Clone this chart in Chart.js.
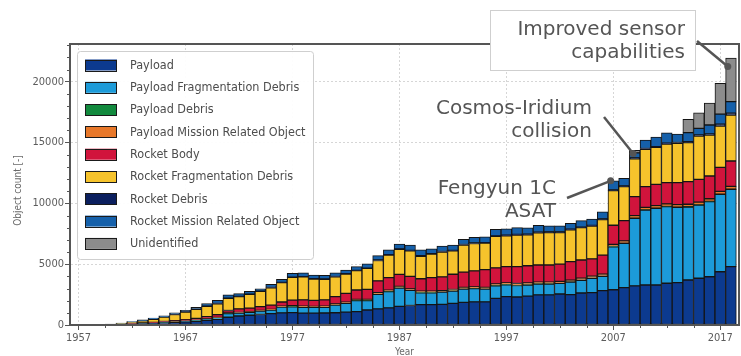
<!DOCTYPE html>
<html>
<head>
<meta charset="utf-8">
<script src="https://cdn.jsdelivr.net/npm/chart.js@4.4.1/dist/chart.umd.min.js"></script>
<style>
  html, body { margin: 0; padding: 0; background: #fff; overflow: hidden; }
  #wrap { width: 741px; height: 356px; position: relative; }
</style>
</head>
<body>
<div id="wrap"><canvas id="c" width="741" height="356"></canvas></div>
<script>
// Tracked objects in orbit by type, yearly totals 1958-2018
const years = [1958,1959,1960,1961,1962,1963,1964,1965,1966,1967,1968,1969,1970,1971,1972,1973,1974,1975,1976,1977,
  1978,1979,1980,1981,1982,1983,1984,1985,1986,1987,1988,1989,1990,1991,1992,1993,1994,1995,1996,1997,
  1998,1999,2000,2001,2002,2003,2004,2005,2006,2007,2008,2009,2010,2011,2012,2013,2014,2015,2016,2017,2018];

const payload = [5,12,25,45,80,110,140,170,210,260,310,380,460,640,740,800,860,930,1000,1020,
  980,970,990,1010,1060,1100,1230,1330,1410,1530,1600,1680,1680,1700,1780,1860,1900,1900,2190,2330,
  2300,2380,2480,2480,2550,2500,2630,2660,2820,2900,3070,3210,3290,3290,3430,3480,3700,3840,3970,4380,4800];

const payloadFragDebris = [0,0,0,5,10,15,20,30,40,50,60,80,120,300,240,240,280,290,470,480,
  480,480,470,630,720,900,770,1200,1330,1510,1240,970,970,1000,1010,1090,1090,1050,1030,980,
  950,910,890,890,870,1020,1040,1180,1180,3530,3640,5560,6160,6300,6300,6190,6000,6020,6170,6360,6350];

const payloadDebris = [0,0,0,0,0,0,0,10,10,10,10,10,10,10,10,10,10,10,10,10,
  10,10,10,10,10,10,10,20,20,20,20,20,20,20,20,20,20,20,20,20,
  20,20,20,20,20,20,20,20,20,20,20,20,20,20,20,20,20,20,20,20,20];

const payloadMissionObj = [0,0,0,0,5,5,10,15,20,25,30,35,40,40,40,45,50,60,60,70,
  70,70,70,80,80,90,90,100,100,110,110,110,110,110,110,120,120,120,130,130,
  140,140,140,140,140,150,150,150,160,180,190,200,200,200,210,210,210,220,220,230,230];

const rocketBody = [3,6,10,15,25,35,45,60,75,100,130,180,220,200,290,290,310,340,350,460,
  520,490,520,600,730,780,830,980,1040,990,1030,1020,1120,1120,1250,1260,1320,1460,1320,1340,
  1390,1420,1400,1400,1420,1520,1500,1430,1570,1570,1660,1560,1700,1750,1740,1800,1850,1870,1870,1970,2080];

const rocketFragDebris = [0,5,20,55,110,185,260,370,510,620,740,850,900,1000,1010,1130,1260,1430,1590,1880,
  1900,1760,1700,1640,1590,1590,1730,1670,1840,2060,2100,1850,1920,2050,1930,2230,2250,2180,2590,2540,
  2600,2550,2650,2670,2600,2620,2660,2700,2910,2840,2790,3120,3070,3040,3180,3230,3210,3570,3370,3400,3780];

const rocketDebris = [0,0,0,0,0,0,0,0,20,20,20,20,20,20,20,20,20,20,20,20,
  20,20,20,20,20,20,20,40,40,40,40,40,40,40,40,40,40,40,50,50,
  50,50,50,50,50,50,50,50,60,60,60,70,70,70,70,70,80,80,80,150,150];

const rocketMissionObj = [2,7,15,30,50,70,85,105,115,125,160,205,260,270,230,225,190,270,250,310,
  300,300,300,290,310,310,340,360,400,390,420,490,400,450,440,420,460,480,530,510,
  550,510,570,500,500,480,530,510,580,750,620,410,690,780,850,700,740,550,740,830,950];

const unidentified = [0,0,0,0,0,0,0,0,0,0,0,0,0,0,0,0,0,0,0,0,
  0,0,0,0,0,0,0,0,0,0,0,0,0,0,0,0,0,0,0,0,
  0,0,0,0,0,0,0,0,0,0,0,200,0,0,0,0,1090,1280,1810,2530,3590];

const yearTicks = [1957,1967,1977,1987,1997,2007,2017];
const countTicks = [0,5000,10000,15000,20000];

const seriesDefs = [
  { label: 'Payload', data: payload, color: '#0c3a8f' },
  { label: 'Payload Fragmentation Debris', data: payloadFragDebris, color: '#1c9bd9' },
  { label: 'Payload Debris', data: payloadDebris, color: '#128a3e' },
  { label: 'Payload Mission Related Object', data: payloadMissionObj, color: '#e8782a' },
  { label: 'Rocket Body', data: rocketBody, color: '#d1143c' },
  { label: 'Rocket Fragmentation Debris', data: rocketFragDebris, color: '#f6c32c' },
  { label: 'Rocket Debris', data: rocketDebris, color: '#0b1f5e' },
  { label: 'Rocket Mission Related Object', data: rocketMissionObj, color: '#1560aa' },
  { label: 'Unidentified', data: unidentified, color: '#8c8c8c' }
];

const totals = years.map((_, i) => seriesDefs.reduce((s, d) => s + d.data[i], 0));
const totalFor = y => totals[years.indexOf(y)];

const datasets = seriesDefs.map(d => ({
  label: d.label,
  data: years.map((y, i) => ({ x: y, y: d.data[i] })),
  backgroundColor: d.color,
  borderColor: '#141414',
  borderWidth: 1,
  borderSkipped: false,
  barPercentage: 1,
  categoryPercentage: 1
}));

const TICK_FONT = { family: "'DejaVu Sans Condensed', 'Liberation Sans Narrow', sans-serif", size: 11 };
const GREY = '#555';

const decor = {
  id: 'decor',
  afterDatasetsDraw(chart) {
    const ctx = chart.ctx;
    const a = chart.chartArea;
    const xs = chart.scales.x, ys = chart.scales.y;
    ctx.save();

    // minor tick marks
    ctx.strokeStyle = GREY;
    ctx.lineWidth = 1;
    ctx.beginPath();
    for (let v = 1000; v <= 23000; v += 1000) {
      if (v % 5000 === 0) continue;
      const py = Math.round(ys.getPixelForValue(v)) + 0.5;
      ctx.moveTo(a.left - 3, py); ctx.lineTo(a.left, py);
    }
    for (let v = 1957; v <= 2018; v += 2.5) {
      if ((v - 1957) % 10 === 0) continue;
      const px = Math.round(xs.getPixelForValue(v)) + 0.5;
      ctx.moveTo(px, a.bottom); ctx.lineTo(px, a.bottom + 3);
    }
    ctx.stroke();

    // plot frame
    ctx.strokeStyle = GREY;
    ctx.lineWidth = 2;
    ctx.strokeRect(a.left, a.top, a.right - a.left, a.bottom - a.top);

    // legend
    const lx = 77.5, ly = 51.5, lw = 236, lh = 208;
    ctx.fillStyle = 'rgba(255,255,255,0.95)';
    ctx.strokeStyle = '#cfcfcf';
    ctx.lineWidth = 1;
    ctx.beginPath();
    ctx.roundRect(lx, ly, lw, lh, 3);
    ctx.fill();
    ctx.stroke();
    ctx.font = "12.5px 'DejaVu Sans Condensed', 'Liberation Sans Narrow', sans-serif";
    ctx.textBaseline = 'middle';
    ctx.textAlign = 'left';
    chart.data.datasets.forEach((ds, i) => {
      const ry = 65 + i * 22.3;
      ctx.fillStyle = ds.backgroundColor;
      ctx.fillRect(85, ry - 5.5, 32, 11);
      ctx.strokeStyle = '#1a1a1a';
      ctx.strokeRect(85.5, Math.round(ry - 5.5) + 0.5, 31, 11);
      ctx.fillStyle = '#4d4d4d';
      ctx.fillText(ds.label, 130, ry + 0.5);
    });

    // axis titles
    ctx.fillStyle = '#6a6a6a';
    ctx.font = "10px 'DejaVu Sans Condensed', 'Liberation Sans Narrow', sans-serif";
    ctx.textAlign = 'center';
    ctx.fillText('Year', (a.left + a.right) / 2, 352);
    ctx.save();
    ctx.translate(18, (a.top + a.bottom) / 2 + 6);
    ctx.rotate(-Math.PI / 2);
    ctx.fillText('Object count [-]', 0, 0);
    ctx.restore();

    // event callouts
    const callout = (lines, rightX, y0, from, yearAt, valAt) => {
      const px = xs.getPixelForValue(yearAt), py = ys.getPixelForValue(valAt);
      ctx.strokeStyle = '#555';
      ctx.lineWidth = 2.5;
      ctx.beginPath();
      ctx.moveTo(from[0], from[1]);
      ctx.lineTo(px, py);
      ctx.stroke();
      ctx.fillStyle = '#555';
      ctx.beginPath();
      ctx.arc(px, py, 3.5, 0, Math.PI * 2);
      ctx.fill();
      ctx.font = "20px 'DejaVu Sans', Verdana, sans-serif";
      ctx.textAlign = 'right';
      ctx.textBaseline = 'middle';
      lines.forEach((t, i) => ctx.fillText(t, rightX, y0 + i * 23.5));
    };

    // boxed note over the top frame
    ctx.fillStyle = '#fff';
    ctx.fillRect(490.5, 10.5, 205, 60);
    ctx.strokeStyle = '#cfcfcf';
    ctx.lineWidth = 1;
    ctx.strokeRect(490.5, 10.5, 205, 60);

    callout(['Improved sensor', 'capabilities'], 685, 29.5, [697, 41], 2017.7, totalFor(2018) - 700);
    callout(['Cosmos-Iridium', 'collision'], 592, 108.5, [604, 117], 2008.85, totalFor(2009) - 250);
    callout(['Fengyun 1C', 'ASAT'], 556, 188.5, [567, 198], 2006.75, totalFor(2007));

    ctx.restore();
  }
};

new Chart(document.getElementById('c'), {
  type: 'bar',
  data: { datasets },
  options: {
    responsive: false,
    animation: false,
    devicePixelRatio: 1,
    layout: { padding: { top: 44, right: 2, left: 0, bottom: 0 } },
    plugins: { legend: { display: false }, tooltip: { enabled: false } },
    scales: {
      x: {
        type: 'linear',
        stacked: true,
        offset: false,
        min: 1956.2,
        max: 2018.75,
        afterBuildTicks: s => { s.ticks = yearTicks.map(v => ({ value: v })); },
        afterFit: s => { s.height = 31; },
        ticks: { callback: v => String(v), font: TICK_FONT, color: '#5c5c5c', padding: 2, maxRotation: 0, autoSkip: false },
        grid: { color: '#d6d6d6', lineWidth: 1, tickLength: 5, tickColor: GREY, tickWidth: 1, offset: false },
        border: { display: true, color: GREY, width: 2, dash: [2, 2] }
      },
      y: {
        stacked: true,
        min: 0,
        max: 23100,
        afterBuildTicks: s => { s.ticks = countTicks.map(v => ({ value: v })); },
        afterFit: s => { s.width = 70; },
        ticks: { callback: v => String(v), font: TICK_FONT, color: '#5c5c5c', padding: 1 },
        grid: { color: '#d6d6d6', lineWidth: 1, tickLength: 5, tickColor: GREY, tickWidth: 1 },
        border: { display: true, color: GREY, width: 2, dash: [2, 2] }
      }
    }
  },
  plugins: [decor]
});
</script>
</body>
</html>
